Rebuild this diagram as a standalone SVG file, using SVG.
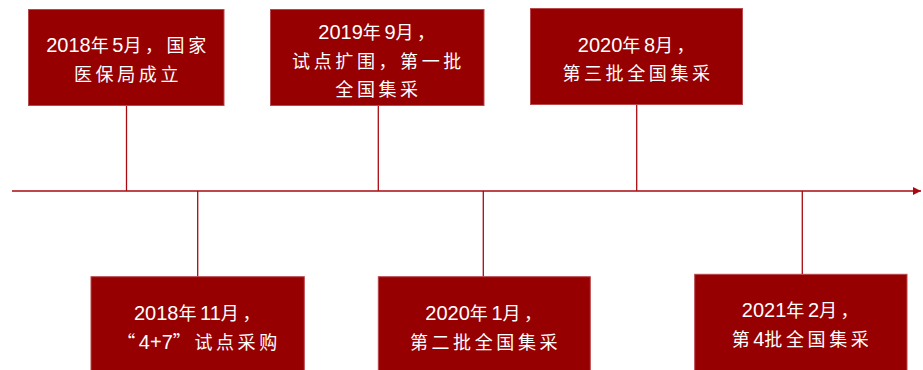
<svg xmlns="http://www.w3.org/2000/svg" width="923" height="370" viewBox="0 0 923 370">
<style>
.box{fill:#960000;stroke:#b9484c;stroke-width:1}
.ln{stroke:#a80a10;stroke-width:1.3;fill:none}
.t{fill:#ffffff;font-family:"Liberation Sans","Noto Sans CJK SC",sans-serif;font-size:18px;letter-spacing:3.6px;text-anchor:middle}
.n{font-size:20px;letter-spacing:0px}
.q{font-family:"Noto Sans CJK SC",sans-serif}
</style>
<defs>
<marker id="ah" viewBox="0 0 10 10" refX="10" refY="5" markerWidth="10" markerHeight="8" markerUnits="userSpaceOnUse" orient="auto">
<path d="M0,0 L10,5 L0,10 Z" fill="#a80a10"/>
</marker>
</defs>
<rect width="923" height="370" fill="#ffffff"/>
<g id="connectors">
<line class="ln" x1="12" y1="191" x2="921" y2="191" marker-end="url(#ah)"/>
<line class="ln" x1="126.5" y1="105.5" x2="126.5" y2="191"/>
<line class="ln" x1="378.3" y1="105.5" x2="378.3" y2="191"/>
<line class="ln" x1="636.7" y1="104.3" x2="636.7" y2="191"/>
<line class="ln" x1="197.7" y1="191" x2="197.7" y2="276.7"/>
<line class="ln" x1="483.3" y1="191" x2="483.3" y2="276.7"/>
<line class="ln" x1="802.3" y1="191" x2="802.3" y2="274.3"/>
</g>
<g id="n2018-5">
<rect class="box" x="28.5" y="9.5" width="195.5" height="96"/>
<text class="t" x="128" y="52"><tspan class="n">2018</tspan>年<tspan class="n">5</tspan>月，国家</text>
<text class="t" x="128" y="81">医保局成立</text>
</g>
<g id="n2019-9">
<rect class="box" x="270.5" y="9.5" width="213.5" height="96"/>
<text class="t" x="378.5" y="39"><tspan class="n">2019</tspan>年<tspan class="n">9</tspan>月，</text>
<text class="t" x="378.5" y="68">试点扩围，第一批</text>
<text class="t" x="378.5" y="96">全国集采</text>
</g>
<g id="n2020-8">
<rect class="box" x="530.5" y="8.5" width="212" height="96"/>
<text class="t" x="638" y="52"><tspan class="n">2020</tspan>年<tspan class="n">8</tspan>月，</text>
<text class="t" x="638" y="80">第三批全国集采</text>
</g>
<g id="n2018-11">
<rect class="box" x="91" y="276.7" width="213.3" height="97"/>
<text class="t" x="199" y="320"><tspan class="n">2018</tspan>年<tspan class="n">11</tspan>月，</text>
<text class="t" x="199" y="348.5"><tspan class="q">“</tspan><tspan class="n">4+7</tspan><tspan class="q">”</tspan>试点采购</text>
</g>
<g id="n2020-1">
<rect class="box" x="378.3" y="276.7" width="212" height="97"/>
<text class="t" x="485.5" y="320"><tspan class="n">2020</tspan>年<tspan class="n">1</tspan>月，</text>
<text class="t" x="485.5" y="348.5">第二批全国集采</text>
</g>
<g id="n2021-2">
<rect class="box" x="694.7" y="274.3" width="212.3" height="99"/>
<text class="t" x="802" y="317"><tspan class="n">2021</tspan>年<tspan class="n">2</tspan>月，</text>
<text class="t" x="802" y="345.5">第<tspan class="n">4</tspan>批全国集采</text>
</g>
</svg>
